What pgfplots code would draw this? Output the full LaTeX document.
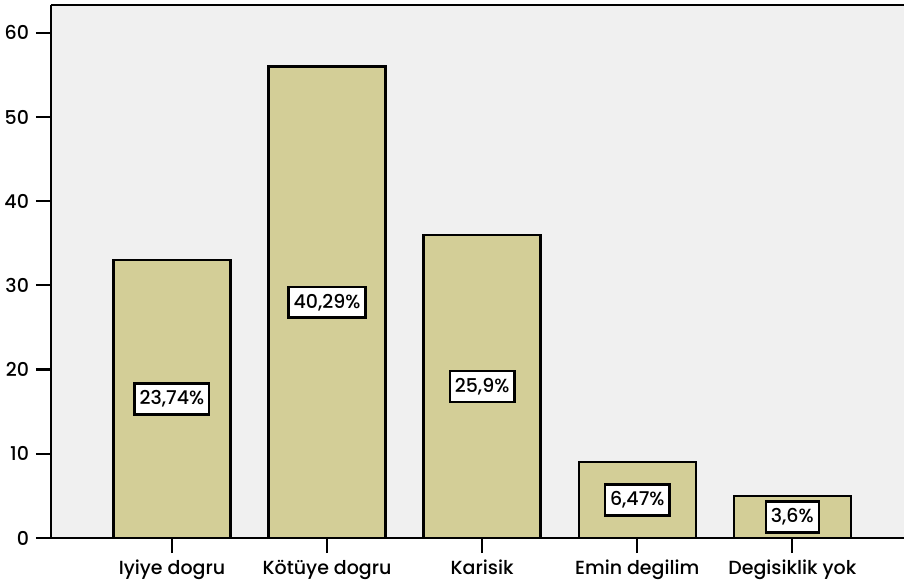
\documentclass[border=0pt]{standalone}
\usepackage{fontspec}
\setmainfont{Poppins}[UprightFont=* Medium]
\usepackage{pgfplots}
\pgfplotsset{compat=1.18}
\definecolor{barfill}{HTML}{D3CE97}
\definecolor{plotbg}{HTML}{F0F0F0}

\begin{document}
\begin{tikzpicture}
\begin{axis}[
    name=ax,
    scale only axis,
    width=426.5pt, height=266.5pt,
    xmin=-0.78, xmax=4.72,
    ymin=0, ymax=63.3,
    axis x line*=bottom, axis y line*=left,
    axis line style={-, line width=0.9pt, black},
    axis background/.style={fill=plotbg},
    xtick={0,...,4},
    xticklabels={Iyiye dogru, Kötüye dogru, Karisik, Emin degilim, Degisiklik yok},
    ytick={0,10,...,60},
    tick align=outside,
    major tick length=7.5pt,
    tick style={line width=1.1pt, black},
    /pgf/number format/assume math mode=true,
    tick label style={font=\fontsize{9.5}{11}\selectfont},
    clip=false,
]
    \addplot[ybar, bar width=58.5pt, fill=barfill, draw=black, line width=1.2pt]
        coordinates {(0,33) (1,56) (2,36) (3,9) (4,5)};
    % percentage labels, centred at half bar height
    \addplot[draw=none, mark=none, nodes near coords, point meta=explicit symbolic,
        nodes near coords align=center,
        every node near coord/.append style={anchor=center, fill=white, draw=black,
            line width=1.2pt, inner xsep=2.5pt, inner ysep=3.5pt, font=\fontsize{9.5}{11}\selectfont}]
        coordinates {(0,16.5)[23,74\%] (1,28)[40,29\%] (2,18)[25,9\%] (3,4.5)[6,47\%] (4,2.5)[3,6\%]};
    \draw[line width=0.9pt] (rel axis cs:0,1) -- (rel axis cs:1,1);
\end{axis}
\pgfresetboundingbox
\path ([xshift=-25.5pt,yshift=-22.5pt]ax.south west) rectangle ([yshift=2.5pt]ax.north east);
\end{tikzpicture}
\end{document}
